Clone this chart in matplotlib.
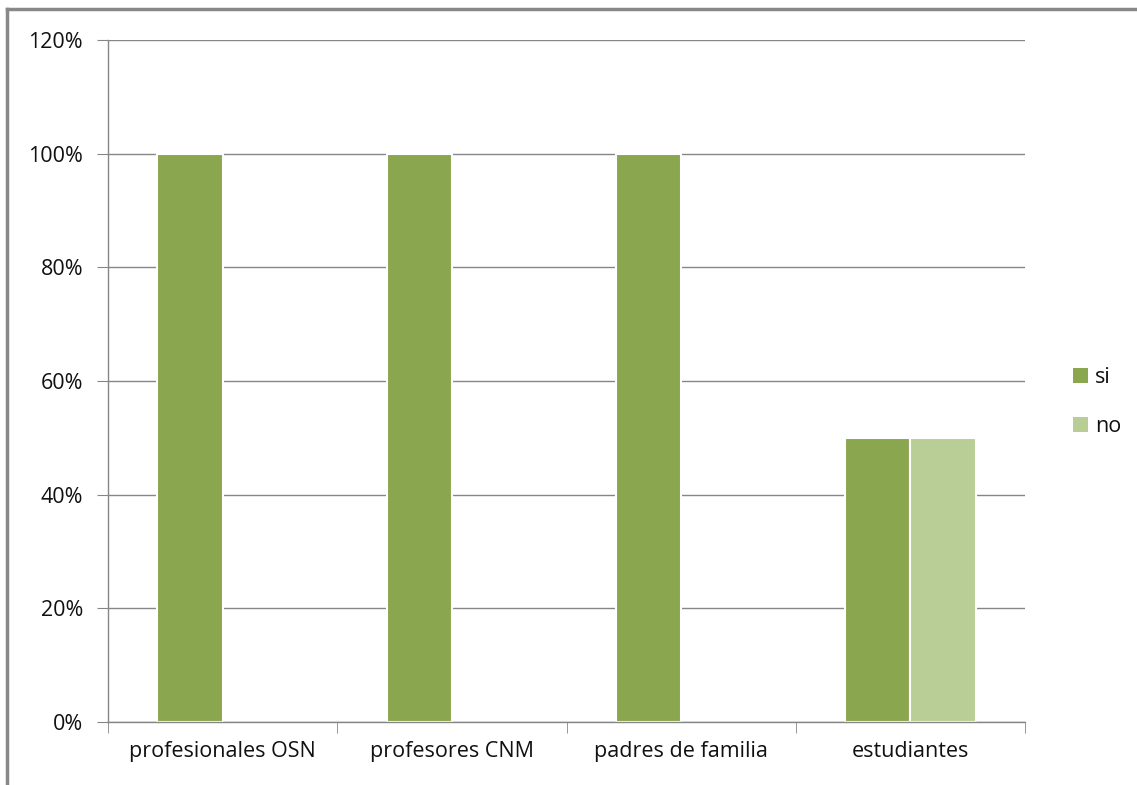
import matplotlib.pyplot as plt
import numpy as np
from matplotlib.lines import Line2D
from matplotlib.patches import Patch

plt.rcParams['font.family'] = ['Open Sans', 'DejaVu Sans']

categories = ['profesionales OSN', 'profesores CNM', 'padres de familia', 'estudiantes']
si_values = [1.00, 1.00, 1.00, 0.50]
no_values = [0.00, 0.00, 0.00, 0.50]
y_ticks = [0, 0.2, 0.4, 0.6, 0.8, 1.0, 1.2]

color_si = '#8AA64F'
color_no = '#B9CE96'
grid_color = '#868686'
text_color = '#111111'

fig = plt.figure(figsize=(11.37, 7.85), dpi=100)
ax = fig.add_axes([0.095, 0.0803, 0.8065, 0.8687])

x = np.arange(len(categories))
width = 0.285

# no white outline on empty (zero-height) bars
si_lw = [1.5 if v > 0 else 0 for v in si_values]
no_lw = [1.5 if v > 0 else 0 for v in no_values]

ax.bar(x - width/2, si_values, width, color=color_si, edgecolor='white', linewidth=si_lw, zorder=3, label='si')
ax.bar(x + width/2, no_values, width, color=color_no, edgecolor='white', linewidth=no_lw, zorder=3, label='no')

ax.set_xlim(-0.5, len(categories) - 0.5)
ax.set_ylim(0, 1.2)
ax.set_yticks(y_ticks)
ax.set_yticklabels([f'{int(round(t*100))}%' for t in y_ticks], fontsize=15.5, color=text_color)
ax.set_xticks(x)
ax.set_xticklabels(categories, fontsize=15.5, color=text_color)
ax.tick_params(axis='x', length=0, pad=14)
ax.tick_params(axis='y', length=8, color=grid_color, pad=10)

# category boundary ticks on the x axis
ax.set_xticks(np.arange(len(categories) + 1) - 0.5, minor=True)
ax.tick_params(axis='x', which='minor', length=8, color=grid_color)

ax.grid(axis='y', color=grid_color, linewidth=1, zorder=0)
ax.set_axisbelow(True)
for s in ['top', 'right']:
    ax.spines[s].set_visible(False)
for s in ['left', 'bottom']:
    ax.spines[s].set_color(grid_color)
    ax.spines[s].set_linewidth(1)
    ax.spines[s].set_zorder(5)

handles = [Patch(facecolor=color_si, edgecolor='none', label='si'),
           Patch(facecolor=color_no, edgecolor='none', label='no')]
leg = fig.legend(handles=handles, loc='center left', bbox_to_anchor=(0.927, 0.488), frameon=False,
                 fontsize=15.5, handlelength=0.7, handleheight=0.7, handletextpad=0.3, labelspacing=1.3)
for t in leg.get_texts():
    t.set_color(text_color)

# outer frame (top and left edges visible)
fig.add_artist(Line2D([7/1137, 1], [1 - 9/785, 1 - 9/785], color='#888888', linewidth=2.5))
fig.add_artist(Line2D([7/1137, 7/1137], [0, 1 - 9/785], color='#888888', linewidth=2.5))

fig.savefig('out.png', dpi=100, facecolor='white')
